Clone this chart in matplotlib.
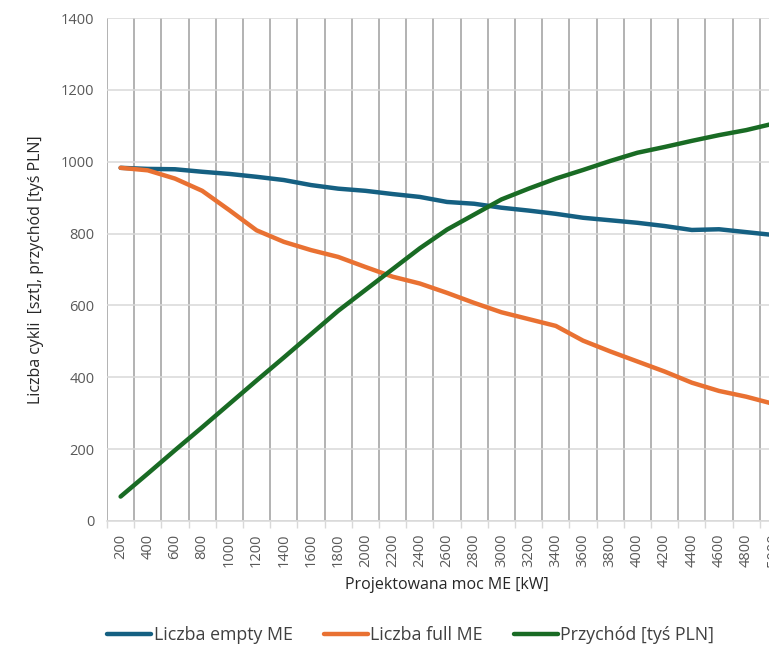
import matplotlib
matplotlib.use("Agg")
import matplotlib.pyplot as plt
import numpy as np

plt.rcParams['font.family'] = ['Open Sans', 'DejaVu Sans']

# moc ME [kW]
moc = [200, 400, 600, 800, 1000, 1200, 1400, 1600, 1800, 2000, 2200, 2400, 2600,
       2800, 3000, 3200, 3400, 3600, 3800, 4000, 4200, 4400, 4600, 4800, 5000]

empty_me = [983, 980, 979, 972, 966, 958, 949, 935, 925, 919, 910, 902, 888,
            883, 872, 864, 855, 844, 837, 830, 821, 810, 812, 804, 796]
full_me = [983, 976, 953, 919, 865, 809, 777, 754, 735, 707, 680, 661, 635,
           607, 581, 562, 543, 502, 472, 444, 416, 385, 362, 346, 326]
przychod = [68, 132, 197, 261, 326, 391, 455, 520, 585, 643, 701, 759, 811,
            853, 895, 925, 953, 977, 1002, 1025, 1041, 1058, 1074, 1088, 1106]

seria = [
    ("Liczba empty ME", empty_me, "#156082"),
    ("Liczba full ME", full_me, "#E97132"),
    ("Przychód [tyś PLN]", przychod, "#196B24"),
]

fig = plt.figure(figsize=(7.69, 6.49), dpi=100)
# wykres celowo wychodzi poza prawa krawedz (jak w oryginale)
ax = fig.add_axes([107/769, 128/649, 680/769, 503/649])

x = np.arange(len(moc))
for name, vals, col in seria:
    ax.plot(x, vals, color=col, lw=3.2, label=name,
            solid_capstyle="round", solid_joinstyle="round", zorder=3)

ax.set_xlim(-0.5, len(moc) - 0.5)
ax.set_ylim(0, 1400)
ax.set_yticks(np.arange(0, 1401, 200))

ax.set_xticks(x)
ax.set_xticklabels([str(m) for m in moc], rotation=90)
ax.set_xticks(np.arange(-0.5, len(moc), 1), minor=True)

ax.tick_params(axis="x", which="major", length=0, pad=9, labelsize=10.5, labelcolor="#595959")
ax.tick_params(axis="x", which="minor", length=5, width=1, color="#D9D9D9", direction="out")
ax.tick_params(axis="y", length=0, pad=9, labelsize=10.5, labelcolor="#595959")

ax.grid(axis="y", which="major", color="#D9D9D9", lw=1.1)
ax.grid(axis="x", which="minor", color="#A6A6A6", lw=1.2)
ax.grid(axis="x", which="major", visible=False)
ax.set_axisbelow(True)

for s in ["top", "right", "left"]:
    ax.spines[s].set_visible(False)
ax.spines["bottom"].set_color("#D9D9D9")
ax.spines["bottom"].set_linewidth(1.1)

ax.set_xlabel("Projektowana moc ME [kW]", fontsize=11.5, color="#262626", labelpad=7)
ax.set_ylabel("Liczba cykli  [szt], przychód [tyś PLN]", fontsize=11.5, color="#262626", labelpad=12)

fig.legend(loc="center left", bbox_to_anchor=(107/769, 14/649), ncol=3, frameon=False,
           fontsize=12.8, handlelength=2.5, handletextpad=0.12, columnspacing=1.75,
           borderaxespad=0, borderpad=0, labelcolor="#404040")

fig.savefig("out.png", dpi=100)
